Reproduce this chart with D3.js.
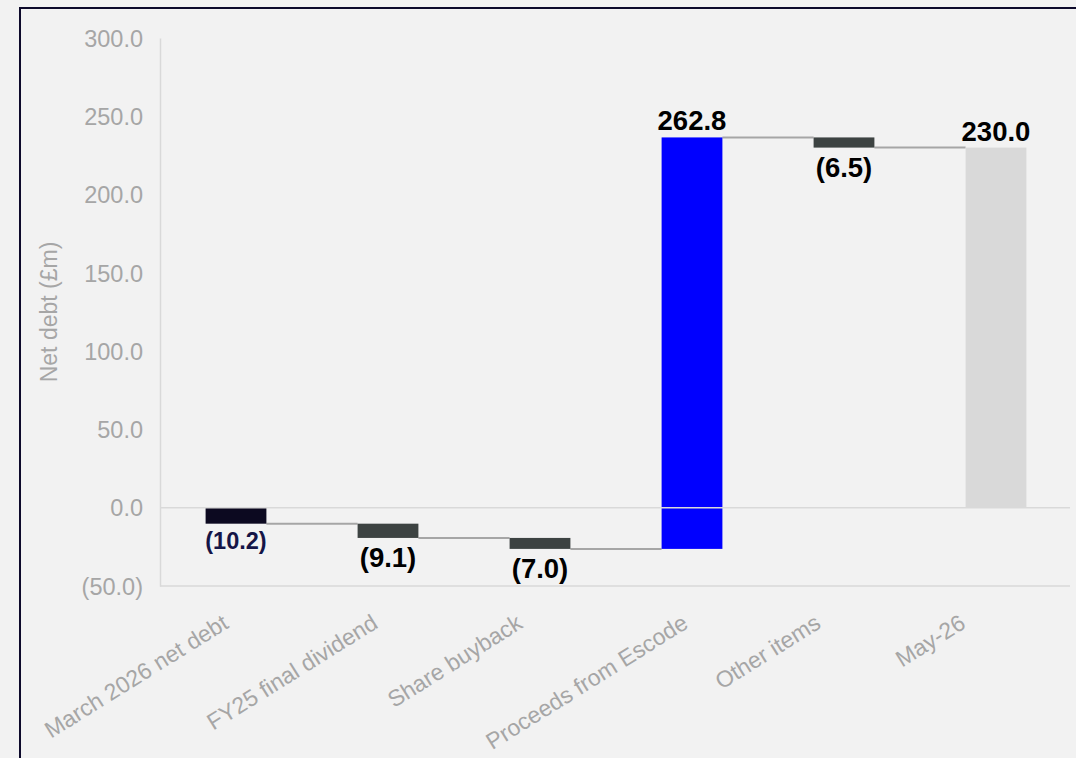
<!DOCTYPE html>
<html>
<head>
<meta charset="utf-8">
<script src="https://cdn.jsdelivr.net/npm/d3@7"></script>
<style>
  html, body { margin: 0; padding: 0; background: #f2f2f2; }
  svg { display: block; font-family: "Liberation Sans", Arial, sans-serif; }
</style>
</head>
<body>
<svg id="chart" width="1076" height="758"></svg>
<script>
// Net debt bridge, £m
const categories = ["March 2026 net debt", "FY25 final dividend", "Share buyback",
                    "Proceeds from Escode", "Other items", "May-26"];
const changes = [-10.2, -9.1, -7.0, 262.8, -6.5, 230.0];
const isTotal = [false, false, false, false, false, true];
const valueLabels = ["(10.2)", "(9.1)", "(7.0)", "262.8", "(6.5)", "230.0"];
const barColors = ["#0c0920", "#3d4342", "#3d4342", "#0000ff", "#3d4342", "#d9d9d9"];
const labelColors = ["#151547", "#000000", "#000000", "#000000", "#000000", "#000000"];
const yTicks = [-50, 0, 50, 100, 150, 200, 250, 300];

// running totals for each step of the bridge
let run = 0;
const steps = categories.map((c, i) => {
  let start, end;
  if (isTotal[i]) { start = 0; end = changes[i]; run = end; }
  else { start = run; end = run + changes[i]; run = end; }
  return { cat: c, start, end, value: changes[i], label: valueLabels[i],
           color: barColors[i], labelColor: labelColors[i], first: i === 0 };
});

const svg = d3.select("#chart");
const W = 1076, H = 758;
const m = { left: 160, right: 4, top: 38, bottom: 172 };

svg.append("rect").attr("width", W).attr("height", H).attr("fill", "#f2f2f2");
// frame
svg.append("rect").attr("x", 20).attr("y", 8).attr("width", W + 20).attr("height", H + 20)
  .attr("fill", "#f2f2f2").attr("stroke", "#0d0a2b").attr("stroke-width", 2);

const x = d3.scaleBand().domain(categories).range([m.left, W - m.right]).paddingInner(0.6).paddingOuter(0.3);
const y = d3.scaleLinear().domain([-50, 300]).range([H - m.bottom, m.top]);

const fmt = v => v < 0 ? "(" + d3.format(".1f")(-v) + ")" : d3.format(".1f")(v);

// y axis
const yAxis = svg.append("g").attr("transform", `translate(${m.left},0)`)
  .call(d3.axisLeft(y).tickValues(yTicks).tickFormat(fmt).tickSize(0).tickPadding(17));
yAxis.select(".domain").attr("stroke", "#d9d9d9").attr("stroke-width", 1.5);
yAxis.selectAll("text").attr("fill", "#a6a6a6").style("font-size", "23.5px").attr("dy", "0.35em");

// bottom line at axis minimum
svg.append("line").attr("x1", m.left).attr("x2", W - m.right - 2)
  .attr("y1", y(-50)).attr("y2", y(-50)).attr("stroke", "#d9d9d9").attr("stroke-width", 1.5);

// axis title
svg.append("text").attr("transform", `translate(57,${y(125)}) rotate(-90)`)
  .attr("text-anchor", "middle").attr("fill", "#a6a6a6").style("font-size", "23px")
  .text("Net debt (£m)");

// connectors between consecutive bars
steps.slice(0, -1).forEach((d, i) => {
  const nxt = categories[i + 1];
  svg.append("line")
    .attr("x1", x(d.cat) + x.bandwidth()).attr("x2", x(nxt))
    .attr("y1", y(d.end)).attr("y2", y(d.end))
    .attr("stroke", "#a6a6a6").attr("stroke-width", 2);
});

// bars
svg.selectAll("rect.bar").data(steps).join("rect").attr("class", "bar")
  .attr("x", d => x(d.cat)).attr("width", x.bandwidth())
  .attr("y", d => y(Math.max(d.start, d.end)))
  .attr("height", d => Math.abs(y(d.start) - y(d.end)))
  .attr("fill", d => d.color);

// zero line drawn over the bars
svg.append("line").attr("x1", m.left).attr("x2", W - m.right - 2)
  .attr("y1", y(0)).attr("y2", y(0)).attr("stroke", "#d9d9d9").attr("stroke-width", 1.5);

// value labels
svg.selectAll("text.val").data(steps).join("text").attr("class", "val")
  .attr("x", d => x(d.cat) + x.bandwidth() / 2)
  .attr("y", d => d.value < 0 ? y(Math.min(d.start, d.end)) + (d.first ? 25 : 29) : y(Math.max(d.start, d.end)) - 7)
  .attr("text-anchor", "middle").attr("fill", d => d.labelColor)
  .style("font-weight", "bold").style("font-size", d => d.first ? "23.5px" : "27.5px")
  .text(d => d.label);

// category labels, rotated
svg.selectAll("text.cat").data(categories).join("text").attr("class", "cat")
  .attr("text-anchor", "end").attr("fill", "#a6a6a6").style("font-size", "23px")
  .text(d => d)
  .attr("transform", function (d) {
    const len = this.getComputedTextLength();
    const cx = x(d) + x.bandwidth() / 2 - 42 + 0.17 * len;
    return `translate(${cx},627) rotate(-32)`;
  });
</script>
</body>
</html>
